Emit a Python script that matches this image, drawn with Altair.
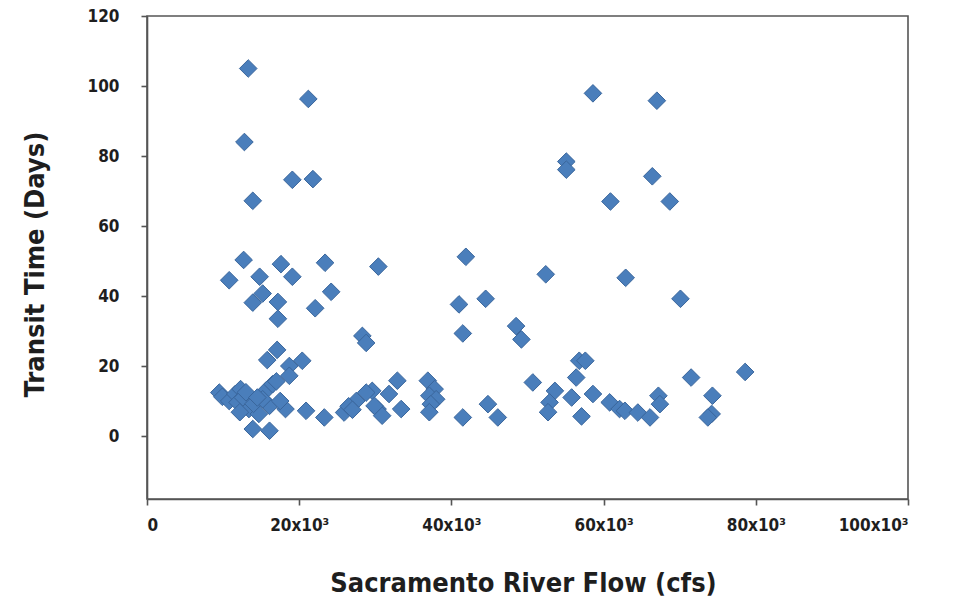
import altair as alt
import pandas as pd

# Sacramento River flow (cfs) and matching transit time (days)
flow_cfs = [
    13300, 21200, 12800, 19100, 21800, 13900, 12700, 17600, 23400, 10800,
    14800, 19100, 15200, 13900, 17200, 24200, 22100, 17200, 30400, 28300,
    28800, 17100, 15800, 20400, 18700,
    41900, 52400, 41000, 44500, 41500, 48500, 49200,
    58600, 67000, 55100, 55100, 66400, 60900, 68700, 62900, 70100,
    56800, 57600, 56400, 55800, 58600, 57100, 60800, 62100, 62800, 64500,
    66100, 67200, 67400, 71500, 74300, 74200, 73700, 78600, 53600, 52900,
    52700, 50700,
    29600, 32900, 31800, 30300, 30900, 33400, 36900, 37800, 37100, 38000,
    37300, 37100, 41500, 44800, 46100,
    9500, 9900, 10800, 11600, 12300, 11900, 12600, 13400, 13000, 12200,
    14700, 14000, 15600, 16100, 16500, 17000, 18700, 15200, 13900, 16100,
    14500, 18200, 17500, 20900, 23300, 25900, 27500, 28800, 29900, 26500,
    27000,
]
transit_days = [
    105.0, 96.3, 84.0, 73.2, 73.4, 67.2, 50.3, 49.1, 49.5, 44.5,
    45.5, 45.5, 40.7, 38.1, 38.3, 41.2, 36.5, 33.5, 48.4, 28.6,
    26.6, 24.6, 21.7, 21.5, 20.0,
    51.2, 46.2, 37.6, 39.2, 29.3, 31.4, 27.6,
    97.9, 95.8, 78.4, 76.1, 74.2, 67.0, 67.0, 45.2, 39.2,
    21.5, 21.5, 16.7, 11.0, 12.0, 5.6, 9.6, 7.7, 7.2, 6.7,
    5.3, 11.5, 9.1, 16.7, 11.5, 6.3, 5.3, 18.3, 12.9, 9.6,
    6.8, 15.3,
    12.9, 15.8, 12.0, 7.7, 5.8, 7.7, 15.8, 13.4, 11.5, 10.5,
    9.1, 6.8, 5.3, 9.1, 5.3,
    12.4, 11.2, 10.0, 12.0, 13.4, 9.6, 11.0, 7.7, 12.5, 6.8,
    6.3, 9.2, 12.9, 8.6, 14.8, 15.6, 17.2, 10.5, 2.0, 1.5,
    11.0, 7.7, 10.0, 7.2, 5.3, 6.7, 10.0, 12.4, 8.6, 8.5,
    7.5,
]

x_ticks = [0, 20000, 40000, 60000, 80000, 100000]
y_ticks = [0, 20, 40, 60, 80, 100, 120]

df = pd.DataFrame({"flow": flow_cfs, "days": transit_days})

FONT = "Liberation Sans Narrow, DejaVu Sans Condensed, Roboto, sans-serif"
AXIS_COLOR = "#555555"
TEXT_COLOR = "#1e1e1e"

chart = (
    alt.Chart(df)
    .mark_point(
        shape="diamond",
        filled=True,
        size=310,
        color="#4a7ebb",
        stroke="#3a669c",
        strokeWidth=1,
        opacity=1,
    )
    .encode(
        x=alt.X(
            "flow:Q",
            scale=alt.Scale(domain=[0, 100000], nice=False, zero=False),
            axis=alt.Axis(
                values=x_ticks,
                labelExpr="datum.value == 0 ? '0' : (datum.value / 1000) + 'x10³'",
                title="Sacramento River Flow (cfs)",
                titleX=376,
                titleY=84,
                titleBaseline="middle",
                labelPadding=12,
                tickSize=6,
                grid=False,
            ),
        ),
        y=alt.Y(
            "days:Q",
            scale=alt.Scale(domain=[-18, 120], nice=False, zero=False),
            axis=alt.Axis(
                values=y_ticks,
                title="Transit Time (Days)",
                titleX=-112,
                titleY=248,
                titleAngle=-90,
                titleBaseline="middle",
                labelPadding=22,
                tickSize=6,
                grid=False,
            ),
        ),
    )
    .properties(
        width=761,
        height=483,
        background="white",
        autosize=alt.AutoSizeParams(type="none"),
        padding={"left": 147, "top": 16, "right": 48, "bottom": 101},
    )
    .configure_view(stroke=AXIS_COLOR, strokeWidth=1.6)
    .configure_axis(
        domainColor=AXIS_COLOR,
        domainWidth=1.6,
        tickColor=AXIS_COLOR,
        tickWidth=1.6,
        labelFont=FONT,
        labelFontSize=17,
        labelFontWeight="bold",
        labelColor=TEXT_COLOR,
        titleFont=FONT,
        titleFontSize=27,
        titleFontWeight="bold",
        titleColor=TEXT_COLOR,
    )
)

chart.save("out.html", embed_options={"renderer": "svg", "actions": False})
